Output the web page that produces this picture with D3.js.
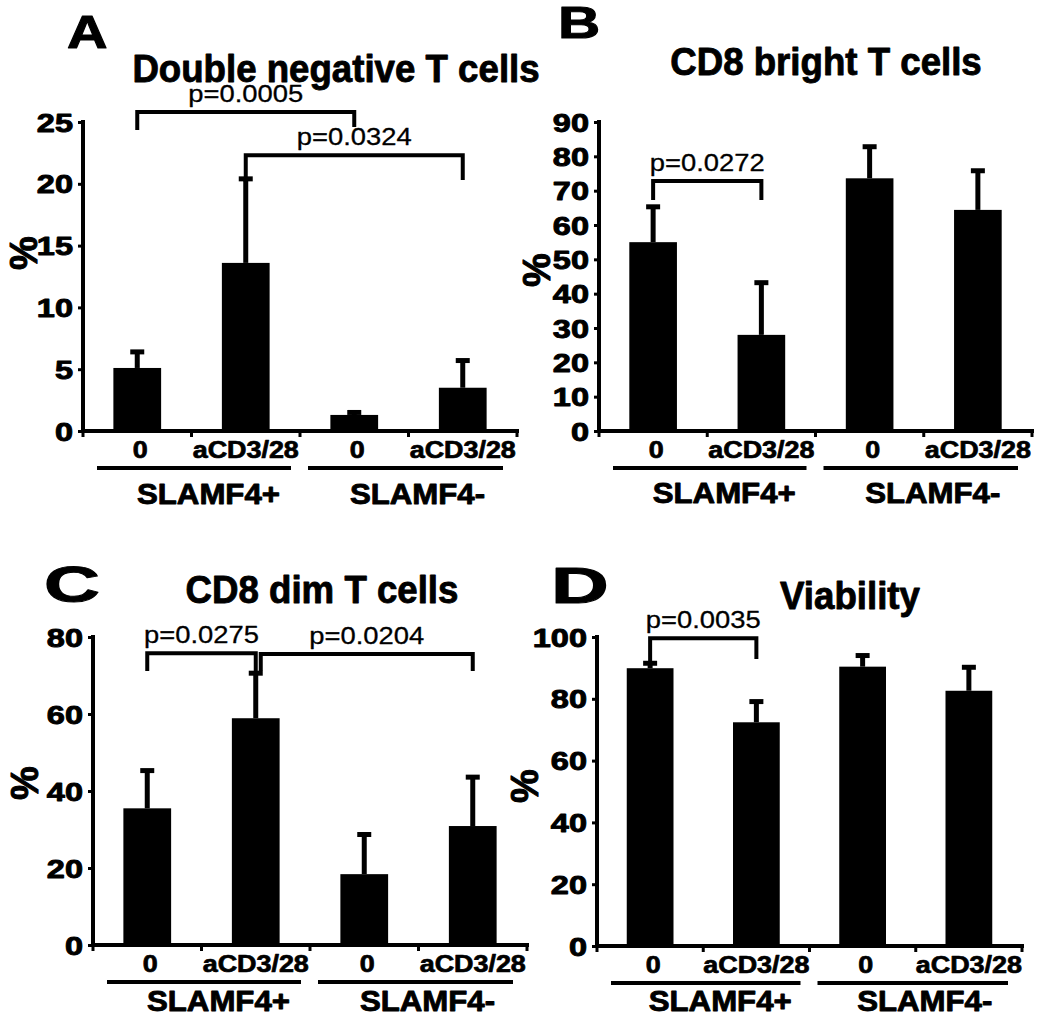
<!DOCTYPE html>
<html><head><meta charset="utf-8">
<script src="https://cdn.jsdelivr.net/npm/d3@7"></script>
<style>body{margin:0;background:#fff}svg{display:block}</style>
</head><body>
<svg id="chart" width="1050" height="1017"></svg>
<script>
// ---------- data ----------
const categories = ["0", "aCD3/28", "0", "aCD3/28"];
const groups = ["SLAMF4+", "SLAMF4-"];
const titles = ["Double negative T cells", "CD8 bright T cells", "CD8 dim T cells", "Viability"];
const letters = ["A", "B", "C", "D"];
const yLabel = "%";

const dnMeans = [5.1, 13.6, 1.3, 3.5];
const dnErr = [1.3, 6.8, 0.2, 2.2];
const dnTicks = [0, 5, 10, 15, 20, 25];
const dnBrackets = [
  {a: 0, b: 2, level: 25.8, legA: 24.35, legB: 24.6, p: "p=0.0005"},
  {a: 1, b: 3, level: 22.3, legA: 20.15, legB: 20.3, p: "p=0.0324"}
];

const brMeans = [55.0, 28.0, 73.6, 64.4];
const brErr = [10.3, 15.2, 9.2, 11.4];
const brTicks = [0, 10, 20, 30, 40, 50, 60, 70, 80, 90];
const brBrackets = [
  {a: 0, b: 1, level: 72.8, legA: 67.3, legB: 67.3, p: "p=0.0272"}
];

const dimMeans = [35.5, 58.9, 18.4, 30.9];
const dimErr = [9.8, 11.7, 10.3, 12.7];
const dimTicks = [0, 20, 40, 60, 80];
const dimBrackets = [
  {a: 0, b: 1, level: 75.8, legA: 71.2, legB: 71.2, p: "p=0.0275"},
  {a: 1, b: 3, level: 75.6, legA: 71.2, legB: 71.2, p: "p=0.0204"}
];

const viaMeans = [89.9, 72.4, 90.4, 82.6];
const viaErr = [1.6, 6.7, 3.6, 7.6];
const viaTicks = [0, 20, 40, 60, 80, 100];
const viaBrackets = [
  {a: 0, b: 1, level: 99.6, legA: 91.6, legB: 92.9, p: "p=0.0035"}
];

// ---------- layout ----------
const FONT = '"Liberation Sans", Arial, Helvetica, sans-serif';
const panels = [
  {means: dnMeans, err: dnErr, ticks: dnTicks, brackets: dnBrackets,
   x0: 83, x1: 517, y0: 431, yTop: 122, letter: [67, 48, 46, 1.22], title: [336, 82], pct: [37, 253], grpDy: 73},
  {means: brMeans, err: brErr, ticks: brTicks, brackets: brBrackets,
   x0: 599, x1: 1032, y0: 431, yTop: 122, letter: [558, 38, 45, 1.3], title: [826, 75], pct: [550, 270], grpDy: 72},
  {means: dimMeans, err: dimErr, ticks: dimTicks, brackets: dimBrackets,
   x0: 93, x1: 527, y0: 945, yTop: 637, letter: [44, 602, 50, 1.55], title: [322, 603], pct: [38, 783], grpDy: 66},
  {means: viaMeans, err: viaErr, ticks: viaTicks, brackets: viaBrackets,
   x0: 597, x1: 1022, y0: 946, yTop: 637, letter: [551, 603, 50, 1.6], title: [850, 609], pct: [538, 786], grpDy: 65}
];

const svg = d3.select("#chart");

function txt(g, s, x, y, o) {
  const t = g.append("text")
    .attr("transform", `translate(${x},${y})` + (o.rotate ? ` rotate(${o.rotate})` : "") + ` scale(${o.sx || 1},1)`)
    .attr("font-family", FONT)
    .attr("font-size", o.size)
    .attr("font-weight", o.weight || "normal")
    .attr("text-anchor", o.anchor || "middle")
    .attr("fill", "#000")
    .attr("stroke", "#000")
    .attr("stroke-width", o.sw || 0)
    .attr("stroke-linejoin", "round")
    .text(s);
  if (o.dy) t.attr("dy", o.dy);
  return t;
}

panels.forEach((P, pi) => {
  const g = svg.append("g");
  const yMax = P.ticks[P.ticks.length - 1];
  const y = d3.scaleLinear().domain([0, yMax]).range([P.y0, P.yTop]);
  const x = d3.scaleBand().domain(d3.range(categories.length)).range([P.x0, P.x1]).paddingInner(0).paddingOuter(0);
  const bw = x.bandwidth() * 0.44;
  const cx = i => x(i) + x.bandwidth() / 2;

  // bars
  g.selectAll("rect.bar").data(P.means).join("rect")
    .attr("x", (d, i) => cx(i) - bw / 2)
    .attr("y", d => y(d))
    .attr("width", bw)
    .attr("height", d => P.y0 - y(d))
    .attr("fill", "#000");

  // error bars (upper only)
  P.means.forEach((m, i) => {
    const top = y(m + P.err[i]);
    g.append("line").attr("x1", cx(i)).attr("x2", cx(i)).attr("y1", y(m)).attr("y2", top)
      .attr("stroke", "#000").attr("stroke-width", 5);
    g.append("line").attr("x1", cx(i) - 7).attr("x2", cx(i) + 7).attr("y1", top).attr("y2", top)
      .attr("stroke", "#000").attr("stroke-width", 5);
  });

  // y axis
  const yAxis = d3.axisLeft(y).tickValues(P.ticks).tickSize(5).tickSizeOuter(0).tickFormat(d3.format("d"));
  const ya = g.append("g").attr("transform", `translate(${P.x0},0)`).call(yAxis);
  ya.select(".domain").attr("stroke", "#000").attr("stroke-width", 4)
    .attr("d", `M0,${P.yTop - 2}V${P.y0 + 2}`);
  ya.selectAll(".tick line").attr("stroke", "#000").attr("stroke-width", 3);
  ya.selectAll(".tick text")
    .attr("font-family", FONT).attr("font-size", 25).attr("font-weight", "bold").attr("fill", "#000")
    .attr("stroke", "#000").attr("stroke-width", 0.9).attr("stroke-linejoin", "round")
    .attr("x", 0).attr("dy", "0.36em")
    .attr("transform", "translate(-10,0) scale(1.3,1)");

  // x axis
  g.append("line").attr("x1", P.x0 - 2).attr("x2", P.x1 + 2).attr("y1", P.y0).attr("y2", P.y0)
    .attr("stroke", "#000").attr("stroke-width", 4);
  const bounds = d3.range(categories.length + 1).map(i => i < categories.length ? x(i) : P.x1);
  g.selectAll("line.xt").data(bounds).join("line")
    .attr("x1", d => d).attr("x2", d => d).attr("y1", P.y0).attr("y2", P.y0 + 6)
    .attr("stroke", "#000").attr("stroke-width", 3);

  // category labels
  categories.forEach((c, i) => {
    txt(g, c, cx(i) + (c === "0" ? 3 : 0), P.y0 + 27, {size: 23, weight: "bold", sx: 1.17, sw: 0.7});
  });

  // group lines & labels
  groups.forEach((gr, gi) => {
    const gs = x(gi * 2), ge = gi * 2 + 2 < categories.length ? x(gi * 2 + 2) : P.x1;
    const l = gi === 0 ? gs + 14 : gs + 8;
    const r = gi === 0 ? ge - 9 : ge - 14;
    g.append("line").attr("x1", l).attr("x2", r).attr("y1", P.y0 + 37).attr("y2", P.y0 + 37)
      .attr("stroke", "#000").attr("stroke-width", 4);
    txt(g, gr, (gs + ge) / 2 + (gi === 0 ? 17 : 9), P.y0 + P.grpDy, {size: 30, weight: "bold", sx: 1.04, sw: 0.9});
  });

  // significance brackets
  const used = {};
  P.brackets.forEach(B => {
    let xa = cx(B.a), xb = cx(B.b);
    if (used[B.a]) xa += 5;
    used[B.a] = used[B.b] = true;
    const ly = y(B.level);
    g.append("path")
      .attr("d", `M${xa},${y(B.legA)}V${ly}H${xb}V${y(B.legB)}`)
      .attr("fill", "none").attr("stroke", "#000").attr("stroke-width", 4);
    txt(g, B.p, (xa + xb) / 2, ly - 10, {size: 24, sx: 1.14, sw: 0.3});
  });

  // title, panel letter, y label
  txt(g, titles[pi], P.title[0], P.title[1], {size: 39, weight: "bold", sx: 0.94, sw: 0.9});
  txt(g, letters[pi], P.letter[0], P.letter[1], {size: P.letter[2], weight: "bold", anchor: "start", sx: P.letter[3], sw: 1});
  txt(g, yLabel, P.pct[0], P.pct[1], {size: 38, weight: "bold", rotate: -90, sw: 1});
});
</script>
</body></html>
